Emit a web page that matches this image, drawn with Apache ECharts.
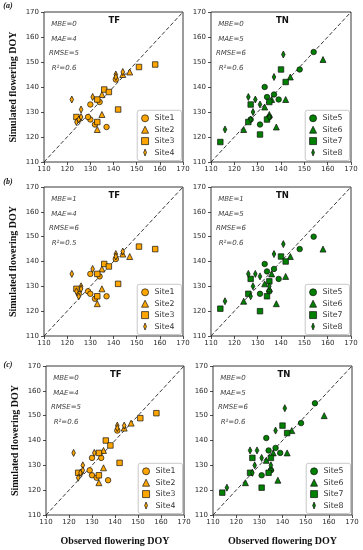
<!DOCTYPE html>
<html><head><meta charset="utf-8">
<script src="https://cdn.jsdelivr.net/npm/echarts@6/dist/echarts.min.js"></script>
<style>html,body{margin:0;padding:0;background:#fff}#c{width:363px;height:550px}</style>
</head><body><div id="c"></div>
<script>
// ---- data ----
const ticks = [110, 120, 130, 140, 150, 160, 170];
const diag = [[110, 110], [170, 170]];
const panelTitles = ['TF', 'TN', 'TF', 'TN', 'TF', 'TN'];
const panelLetters = ['(a)', '(b)', '(c)'];
const statsA_TF = ['MBE=0', 'MAE=4', 'RMSE=5', 'R\u00b2=0.6'];
const statsA_TN = ['MBE=0', 'MAE=5', 'RMSE=6', 'R\u00b2=0.6'];
const statsB_TF = ['MBE=1', 'MAE=4', 'RMSE=6', 'R\u00b2=0.5'];
const statsB_TN = ['MBE=1', 'MAE=5', 'RMSE=6', 'R\u00b2=0.6'];
const statsC_TF = ['MBE=0', 'MAE=4', 'RMSE=5', 'R\u00b2=0.6'];
const statsC_TN = ['MBE=0', 'MAE=5', 'RMSE=6', 'R\u00b2=0.6'];
const tfSites = ['Site1', 'Site2', 'Site3', 'Site4'];
const tnSites = ['Site5', 'Site6', 'Site7', 'Site8'];

// panel (a)
const aSite1 = [[130,133],[130,127],[129,128],[132,125],[137,124],[134,134],[141,143],[125,127]];
const aSite2 = [[135,129],[133,123],[147,146],[144,145],[135,137]];
const aSite3 = [[124,128],[133,126],[133,135],[136,139],[138,138],[142,131],[151,148],[158,149]];
const aSite4 = [[122,135],[126,131],[131,136],[124,126],[125,127],[126,128],[141,145],[141,144],[144,146]];
const aSite5 = [[154,154],[148,147],[133,140],[137,137],[134,136],[139,135],[131,125],[127,127],[135,128]];
const aSite6 = [[158,151],[144,144],[142,135],[133,132],[135,129],[124,123],[138,124],[136,135]];
const aSite7 = [[140,147],[142,142],[135,134],[127,133],[134,127],[126,126],[131,121],[114,118]];
const aSite8 = [[141,153],[137,144],[126,136],[129,135],[131,133],[128,130],[135,128],[127,127],[116,123]];
// panel (b)
const bSite1 = [[130,135],[134,134],[129,128],[130,127],[132,125],[137,126],[141,141],[125,127]];
const bSite2 = [[135,129],[133,123],[147,142],[144,143],[135,137]];
const bSite3 = [[124,129],[133,126],[133,135],[136,139],[138,138],[142,131],[151,146],[158,145]];
const bSite4 = [[122,135],[126,130],[131,137],[124,128],[125,126],[126,129],[141,143],[141,142],[144,144]];
const bSite5 = [[154,150],[148,145],[133,139],[137,137],[134,136],[139,133],[131,127],[135,128]];
const bSite6 = [[158,145],[144,142],[142,134],[136,135],[133,131],[135,129],[124,124],[138,123]];
const bSite7 = [[140,142],[142,140],[135,132],[127,133],[126,127],[134,126],[131,120],[114,121]];
const bSite8 = [[141,147],[137,143],[126,135],[129,135],[131,134],[128,130],[127,126],[135,130],[116,124]];
// panel (c)
const cSite1 = [[130,133],[134,133],[129,128],[130,126],[132,125],[137,124],[141,144],[125,127]];
const cSite2 = [[135,129],[133,123],[147,147],[144,145],[135,136]];
const cSite3 = [[124,127],[133,126],[133,135],[136,140],[138,138],[142,131],[151,149],[158,151]];
const cSite4 = [[122,135],[126,130],[131,135],[124,125],[125,127],[126,128],[141,146],[141,145],[144,146]];
const cSite5 = [[154,155],[148,147],[133,141],[137,137],[134,136],[139,135],[131,126],[135,128]];
const cSite6 = [[158,150],[144,144],[142,135],[136,135],[133,132],[135,129],[124,123],[138,124]];
const cSite7 = [[140,146],[142,143],[135,133],[127,133],[126,127],[134,127],[131,121],[114,119]];
const cSite8 = [[141,153],[137,144],[126,136],[129,136],[131,133],[128,130],[127,127],[135,130],[116,121]];

// ---- layout / style ----
const W = 363, H = 550;
const grids = [
  {left: 44, top: 12, width: 139, height: 150},
  {left: 211, top: 12, width: 140, height: 150},
  {left: 44, top: 187, width: 139, height: 149},
  {left: 211, top: 187, width: 140, height: 149},
  {left: 46, top: 366, width: 138, height: 149},
  {left: 213, top: 366, width: 139, height: 149}
];
const panelData = [
  [aSite1, aSite2, aSite3, aSite4],
  [aSite5, aSite6, aSite7, aSite8],
  [bSite1, bSite2, bSite3, bSite4],
  [bSite5, bSite6, bSite7, bSite8],
  [cSite1, cSite2, cSite3, cSite4],
  [cSite5, cSite6, cSite7, cSite8]
];
const panelStats = [statsA_TF, statsA_TN, statsB_TF, statsB_TN, statsC_TF, statsC_TN];
const symbols = ['circle', 'triangle', 'rect', 'diamond'];
const symSizes = [5.5, 6, 5.5, [3.6, 7]];
const ORANGE = '#FFA500', GREEN = '#008000';
const SANS = 'DejaVu Sans';
const SERIF = 'Liberation Serif';

const option = {
  animation: false,
  backgroundColor: '#fff',
  grid: [], xAxis: [], yAxis: [], series: [], legend: [], graphic: []
};

grids.forEach((g, i) => {
  const isLeft = i % 2 === 0;
  const isBottom = i >= 4;
  option.grid.push({left: g.left, top: g.top, width: g.width, height: g.height,
    show: true, borderColor: '#222', borderWidth: 0.9, backgroundColor: 'transparent'});
  option.xAxis.push({
    type: 'value', gridIndex: i, min: ticks[0], max: ticks[ticks.length - 1], interval: 10,
    axisLine: {show: false}, splitLine: {show: false},
    axisTick: {show: true, length: 3, lineStyle: {color: '#222', width: 0.8}},
    axisLabel: {fontSize: 7, color: '#2a2a2a', fontFamily: SANS, margin: 4, showMinLabel: true, showMaxLabel: true},
    name: isBottom ? 'Observed flowering DOY' : '', nameLocation: 'middle', nameGap: 21,
    nameTextStyle: {fontFamily: SERIF, fontWeight: 'bold', fontSize: 10, color: '#111'}
  });
  option.yAxis.push({
    type: 'value', gridIndex: i, min: ticks[0], max: ticks[ticks.length - 1], interval: 10,
    axisLine: {show: false}, splitLine: {show: false},
    axisTick: {show: true, length: 3, lineStyle: {color: '#222', width: 0.8}},
    axisLabel: {fontSize: 7, color: '#2a2a2a', fontFamily: SANS, margin: 5, showMinLabel: true, showMaxLabel: true},
    name: isLeft ? 'Simulated flowering DOY' : '', nameLocation: 'middle', nameGap: 26, nameRotate: 90,
    nameTextStyle: {fontFamily: SERIF, fontWeight: 'bold', fontSize: 10, color: '#111'}
  });
  // diagonal 1:1 line
  option.series.push({
    type: 'line', xAxisIndex: i, yAxisIndex: i, data: diag, symbol: 'none', silent: true,
    lineStyle: {color: '#222', width: 0.9, type: [4, 2.2]}, z: 1
  });
  const names = isLeft ? tfSites : tnSites;
  const color = isLeft ? ORANGE : GREEN;
  panelData[i].forEach((d, k) => {
    option.series.push({
      type: 'scatter', name: names[k], xAxisIndex: i, yAxisIndex: i, data: d,
      symbol: symbols[k], symbolSize: symSizes[k],
      itemStyle: {color: color, borderColor: '#111', borderWidth: 0.7, opacity: 1}, z: 3
    });
  });
  option.legend.push({
    orient: 'vertical',
    right: W - (g.left + g.width) + 1.5,
    bottom: H - (g.top + g.height) + 1.5,
    data: names.map((n, k) => ({name: n,
      icon: k === 3 ? 'path://M2,0 L4,5 L2,10 L0,5 Z' : symbols[k],
      itemStyle: {color: color, borderColor: '#111', borderWidth: 0.7}})),
    backgroundColor: '#fff', borderColor: '#bbb', borderWidth: 0.8, borderRadius: 2,
    padding: [4, 7, 4, 4], itemWidth: 7, itemHeight: 7, itemGap: 3.4,
    textStyle: {fontSize: 7.8, color: '#333', fontFamily: SANS, padding: [0, 0, 0, 1]},
    selectedMode: false, z: 5
  });
  // panel title
  option.graphic.push({type: 'text', left: g.left + g.width / 2 - 5, top: g.top + 4,
    style: {text: panelTitles[i], font: 'bold 8.5px "DejaVu Sans"', fill: '#111'}, z: 10});
  // stats text
  panelStats[i].forEach((s, k) => {
    option.graphic.push({type: 'text', x: g.left + 20, y: g.top + 12 + k * 14.7,
      style: {text: s, font: 'italic 7px "DejaVu Sans"', fill: '#444', align: 'center', verticalAlign: 'middle'}, z: 10});
  });
});
// panel letters
[6, 182, 365].forEach((y, r) => {
  option.graphic.push({type: 'text', x: 8, y: y,
    style: {text: panelLetters[r], font: 'italic bold 8px "Liberation Serif"', fill: '#111', align: 'center', verticalAlign: 'middle'}});
});

const chart = echarts.init(document.getElementById('c'), null, {renderer: 'canvas'});
chart.setOption(option);
</script></body></html>
